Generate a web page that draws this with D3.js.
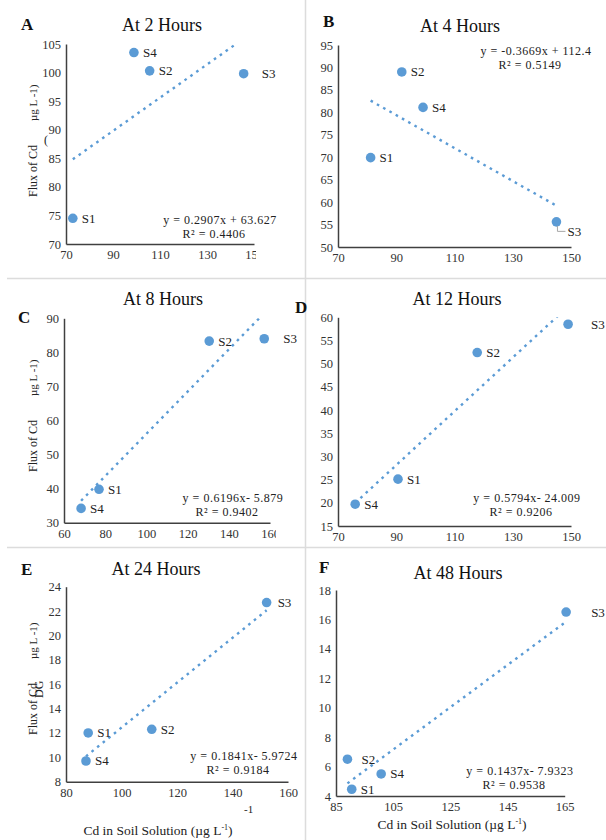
<!DOCTYPE html>
<html lang="en">
<head>
<meta charset="UTF-8">
<title>Flux of Cd vs Cd in soil solution</title>
<script src="https://d3js.org/d3.v7.min.js"></script>
<style>
  body { margin: 0; background: #fff; }
  svg text { font-family: "Liberation Serif", "Times New Roman", serif; }
</style>
</head>
<body>
<svg id="chart" width="606" height="840"></svg>
<script>
// values (S1..S4 in each panel)
const panelIds = ["A", "B", "C", "D", "E", "F"];
const panelTitles = ["At 2 Hours", "At 4 Hours", "At 8 Hours", "At 12 Hours", "At 24 Hours", "At 48 Hours"];
const samples = ["S1", "S2", "S3", "S4"];
const cdSoil = [
  [72.9, 105.6, 145.6, 98.9],
  [81.2, 91.9, 145.0, 99.2],
  [77.0, 130.5, 157.2, 68.3],
  [90.6, 117.8, 149.0, 75.9],
  [88.0, 110.9, 152.3, 87.2],
  [90.5, 89.0, 165.5, 100.8]
];
const cdFlux = [
  [74.5, 100.3, 99.8, 103.5],
  [69.9, 89.0, 55.6, 81.1],
  [39.8, 83.3, 84.0, 34.2],
  [25.1, 52.4, 58.5, 19.7],
  [12.0, 12.3, 22.7, 9.7],
  [4.46, 6.5, 16.5, 5.5]
];
const slopes = [0.2907, -0.3669, 0.6196, 0.5794, 0.1841, 0.1437];
const intercepts = [63.627, 112.4, -5.879, -24.009, -5.9724, -7.9323];
const rSquared = ["0.4406", "0.5149", "0.9402", "0.9206", "0.9184", "0.9538"];
const xDomains = [[70, 150], [70, 150], [60, 160], [70, 150], [80, 160], [85, 165]];
const yDomains = [[70, 105], [50, 95], [30, 90], [15, 60], [8, 24], [4, 18]];
const xSteps = [20, 20, 20, 20, 20, 20];
const ySteps = [5, 5, 10, 5, 2, 2];

// where each panel sits on the page
const layout = [
  {x0: 66, x1: 254, yb: 244, yt: 44, letter: [21, 30], title: [162, 31], eq: [220, 224], clipR: 256, yTitle: [37, 197]},
  {x0: 338, x1: 571, yb: 247, yt: 45, letter: [323, 27], title: [460, 32], eq: [536, 55], clipR: 606},
  {x0: 64, x1: 270, yb: 522.7, yt: 318.3, letter: [18, 323], title: [163, 305], eq: [233, 502], clipR: 276, yTitle: [37, 472]},
  {x0: 338, x1: 571, yb: 526, yt: 317.3, letter: [295, 313], title: [457, 305], eq: [527, 502], clipR: 606},
  {x0: 66, x1: 288, yb: 781.7, yt: 586.7, letter: [21, 575], title: [156, 575], eq: [244, 760], clipR: 606, yTitle: [37, 735], xTitle: [158, 835]},
  {x0: 336, x1: 564.7, yb: 796, yt: 590, letter: [319, 573], title: [458, 579], eq: [520, 775], clipR: 606, xTitle: [452, 829]}
];
// label nudges (dx) for a few crowded labels
const labelDx = {"A-S3": 18, "C-S3": 19, "D-S3": 23, "F-S3": 25, "F-S2": 14, "E-S3": 11};

const blue = "#5B9BD5";
const svg = d3.select("#chart");
const defs = svg.append("defs");

// light frame lines between the panels
const sep = svg.append("g").attr("stroke", "#dcdcdc").attr("stroke-width", 1.5);
sep.append("line").attr("x1", 305.5).attr("x2", 305.5).attr("y1", 0).attr("y2", 840);
sep.append("line").attr("x1", 7).attr("x2", 606).attr("y1", 278.5).attr("y2", 278.5);
sep.append("line").attr("x1", 7).attr("x2", 606).attr("y1", 547.5).attr("y2", 547.5);

panelIds.forEach((id, i) => {
  const L = layout[i];
  const x = d3.scaleLinear().domain(xDomains[i]).range([L.x0, L.x1]);
  const y = d3.scaleLinear().domain(yDomains[i]).range([L.yb, L.yt]);
  const g = svg.append("g");

  // panel letter and title
  g.append("text").attr("x", L.letter[0]).attr("y", L.letter[1])
    .attr("font-size", 17).attr("font-weight", "bold").attr("fill", "#111").text(id);
  g.append("text").attr("x", L.title[0]).attr("y", L.title[1])
    .attr("text-anchor", "middle").attr("font-size", 18).attr("fill", "#111").text(panelTitles[i]);

  // axes
  defs.append("clipPath").attr("id", "xclip" + i)
    .append("rect").attr("x", 0).attr("y", -50).attr("width", L.clipR).attr("height", 100);
  const xAxis = d3.axisBottom(x)
    .tickValues(d3.range(xDomains[i][0], xDomains[i][1] + 0.01, xSteps[i]))
    .tickSize(0).tickSizeOuter(0).tickPadding(6);
  const yAxis = d3.axisLeft(y)
    .tickValues(d3.range(yDomains[i][0], yDomains[i][1] + 0.01, ySteps[i]))
    .tickSize(0).tickSizeOuter(0).tickPadding(5);

  const gx = g.append("g").attr("transform", `translate(0,${L.yb})`)
    .attr("clip-path", `url(#xclip${i})`).call(xAxis);
  const gy = g.append("g").attr("transform", `translate(${L.x0},0)`).call(yAxis);
  [gx, gy].forEach(a => {
    a.select(".domain").attr("stroke", "#404040").attr("stroke-width", 1.5);
    a.selectAll("text").attr("font-size", 12.5).attr("fill", "#333")
      .style("font-family", "'Liberation Serif', serif");
  });

  // trend line, clipped to the plot area
  defs.append("clipPath").attr("id", "plot" + i)
    .append("rect").attr("x", L.x0).attr("y", L.yt)
    .attr("width", L.x1 - L.x0).attr("height", L.yb - L.yt);
  const xs = d3.extent(cdSoil[i]);
  g.append("line")
    .attr("clip-path", `url(#plot${i})`)
    .attr("x1", x(xs[0])).attr("y1", y(slopes[i] * xs[0] + intercepts[i]))
    .attr("x2", x(xs[1])).attr("y2", y(slopes[i] * xs[1] + intercepts[i]))
    .attr("stroke", blue).attr("stroke-width", 2.4).attr("stroke-dasharray", "2.6,4.6");

  // points and labels
  const pts = samples.map((s, k) => ({s, cx: cdSoil[i][k], fy: cdFlux[i][k]}));
  g.selectAll("circle.pt").data(pts).join("circle")
    .attr("cx", d => x(d.cx)).attr("cy", d => y(d.fy)).attr("r", 4.8).attr("fill", blue);

  pts.forEach(d => {
    const px = x(d.cx), py = y(d.fy);
    if (id === "B" && d.s === "S3") {
      g.append("polyline")
        .attr("points", `${px + 1},${py + 4} ${px + 1},${py + 9.5} ${px + 9},${py + 9.5}`)
        .attr("fill", "none").attr("stroke", "#a6a6a6").attr("stroke-width", 1);
      g.append("text").attr("x", px + 11).attr("y", py + 14)
        .attr("font-size", 13).attr("fill", "#222").text(d.s);
      return;
    }
    const dx = labelDx[id + "-" + d.s] || 9;
    g.append("text").attr("x", px + dx).attr("y", py + 4.5)
      .attr("font-size", 13).attr("fill", "#222").text(d.s);
  });

  // equation
  const b = intercepts[i];
  const eq = `y = ${slopes[i]}x${b >= 0 ? " + " + b : "- " + Math.abs(b)}`;
  g.append("text").attr("x", L.eq[0]).attr("y", L.eq[1])
    .attr("text-anchor", "middle").attr("font-size", 12).attr("letter-spacing", 0.5)
    .attr("fill", "#222").text(eq);
  g.append("text").attr("x", L.eq[0] - 6).attr("y", L.eq[1] + 13.6)
    .attr("text-anchor", "middle").attr("font-size", 12).attr("letter-spacing", 0.5)
    .attr("fill", "#222").text(`R² = ${rSquared[i]}`);

  // y axis title (left column only)
  if (L.yTitle) {
    const yt = g.append("text")
      .attr("transform", `translate(${L.yTitle[0]},${L.yTitle[1]}) rotate(-90)`)
      .attr("font-size", 12).attr("fill", "#222");
    yt.append("tspan").text("Flux of Cd");
    yt.append("tspan").attr("dx", 24).attr("font-size", 11).text("\u00b5g L -1)");
  }
  // x axis title (bottom row only)
  if (L.xTitle) {
    const t = g.append("text").attr("x", L.xTitle[0]).attr("y", L.xTitle[1])
      .attr("text-anchor", "middle").attr("font-size", 13.5).attr("fill", "#222");
    t.append("tspan").text("Cd in Soil Solution (\u00b5g L");
    t.append("tspan").attr("font-size", 8).attr("dy", -5).text("-1");
    t.append("tspan").attr("dy", 5).text(")");
  }
});

// stray bits of the original figure
svg.append("text").attr("x", 44).attr("y", 144).attr("font-size", 12).attr("fill", "#222").text("(");
svg.append("text").attr("transform", "translate(43,698) rotate(-90)")
  .attr("font-size", 12).attr("fill", "#222").text("DG");
svg.append("text").attr("x", 244).attr("y", 813).attr("font-size", 11).attr("fill", "#222").text("-1");
</script>
</body>
</html>
